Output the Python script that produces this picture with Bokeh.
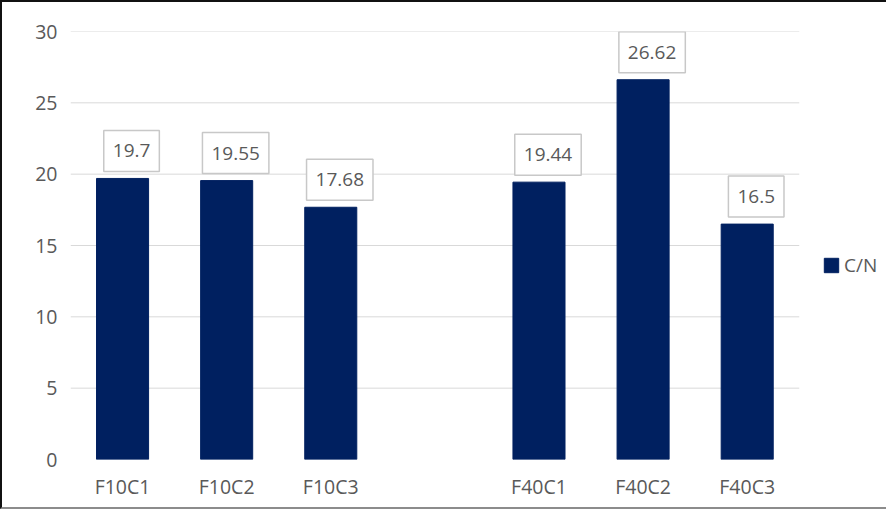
from bokeh.plotting import figure
from bokeh.models import ColumnDataSource, Label, Range1d, FixedTicker, Legend, LegendItem
from bokeh.embed import file_html
from bokeh.resources import INLINE

categories = ["F10C1", "F10C2", "F10C3", "", "F40C1", "F40C2", "F40C3"]
bar_categories = ["F10C1", "F10C2", "F10C3", "F40C1", "F40C2", "F40C3"]
cn_values = [19.7, 19.55, 17.68, 19.44, 26.62, 16.5]
value_labels = ["19.7", "19.55", "17.68", "19.44", "26.62", "16.5"]
y_ticks = [0, 5, 10, 15, 20, 25, 30]
series_name = "C/N"

FONT = "Open Sans"
TXT = "#595959"
BAR = "#002060"
GRID = "#d9d9d9"

# category slot centres (one empty slot between the two groups)
centers = {c: i + 0.5 for i, c in enumerate(categories)}
bar_x = [centers[c] for c in bar_categories]
n_slots = len(categories)

src = ColumnDataSource(dict(x=bar_x, val=cn_values, lab=value_labels))

# plot area extends to the right to hold the legend; category slots span 0..n_slots
p = figure(x_range=Range1d(0, n_slots + 0.79), y_range=Range1d(0, 30),
           width=886, height=509, output_backend="svg", toolbar_location=None,
           min_border_left=68, min_border_right=7, min_border_top=29, min_border_bottom=52)
p.styles = {"border-left": "2px solid #111111", "border-top": "2px solid #111111",
            "border-bottom": "2px solid #8c8c8c"}
p.outline_line_color = None
p.background_fill_color = "white"
p.border_fill_color = "white"

# horizontal gridlines across the category slots only
grid_y = y_ticks[1:]
p.segment(x0=[0] * len(grid_y), x1=[n_slots] * len(grid_y), y0=grid_y, y1=grid_y,
          line_color=GRID, line_width=1, level="underlay")

r = p.vbar(x="x", top="val", width=0.5, source=src, fill_color=BAR, line_color=BAR)

for xc, v, t in zip(bar_x, cn_values, value_labels):
    p.add_layout(Label(x=xc, y=v, text=t, text_align="center", text_baseline="bottom",
                       x_offset=9, y_offset=7, text_font=FONT, text_font_size="19px",
                       text_color=TXT, background_fill_color="white",
                       border_line_color="#c8c8c8", border_line_width=1.5, padding=(9, 14)))

p.xgrid.grid_line_color = None
p.ygrid.grid_line_color = None

for ax in (p.xaxis, p.yaxis):
    ax.axis_line_color = None
    ax.major_tick_line_color = None
    ax.minor_tick_line_color = None
    ax.major_label_text_font = FONT
    ax.major_label_text_font_size = "19.5px"
    ax.major_label_text_color = TXT
p.yaxis.ticker = FixedTicker(ticks=y_ticks)
p.xaxis.ticker = FixedTicker(ticks=bar_x)
p.xaxis.major_label_overrides = {xc: c for xc, c in zip(bar_x, bar_categories)}
p.yaxis.major_label_standoff = 7
p.xaxis.major_label_standoff = 7

legend = Legend(items=[LegendItem(label=series_name, renderers=[r])],
                location=(752, 181), border_line_color=None, background_fill_alpha=0,
                padding=0, margin=0, glyph_width=18, glyph_height=18, label_standoff=4,
                label_text_font=FONT, label_text_font_size="19px", label_text_color=TXT)
p.add_layout(legend)

open("out.html", "w").write(file_html(p, INLINE))
